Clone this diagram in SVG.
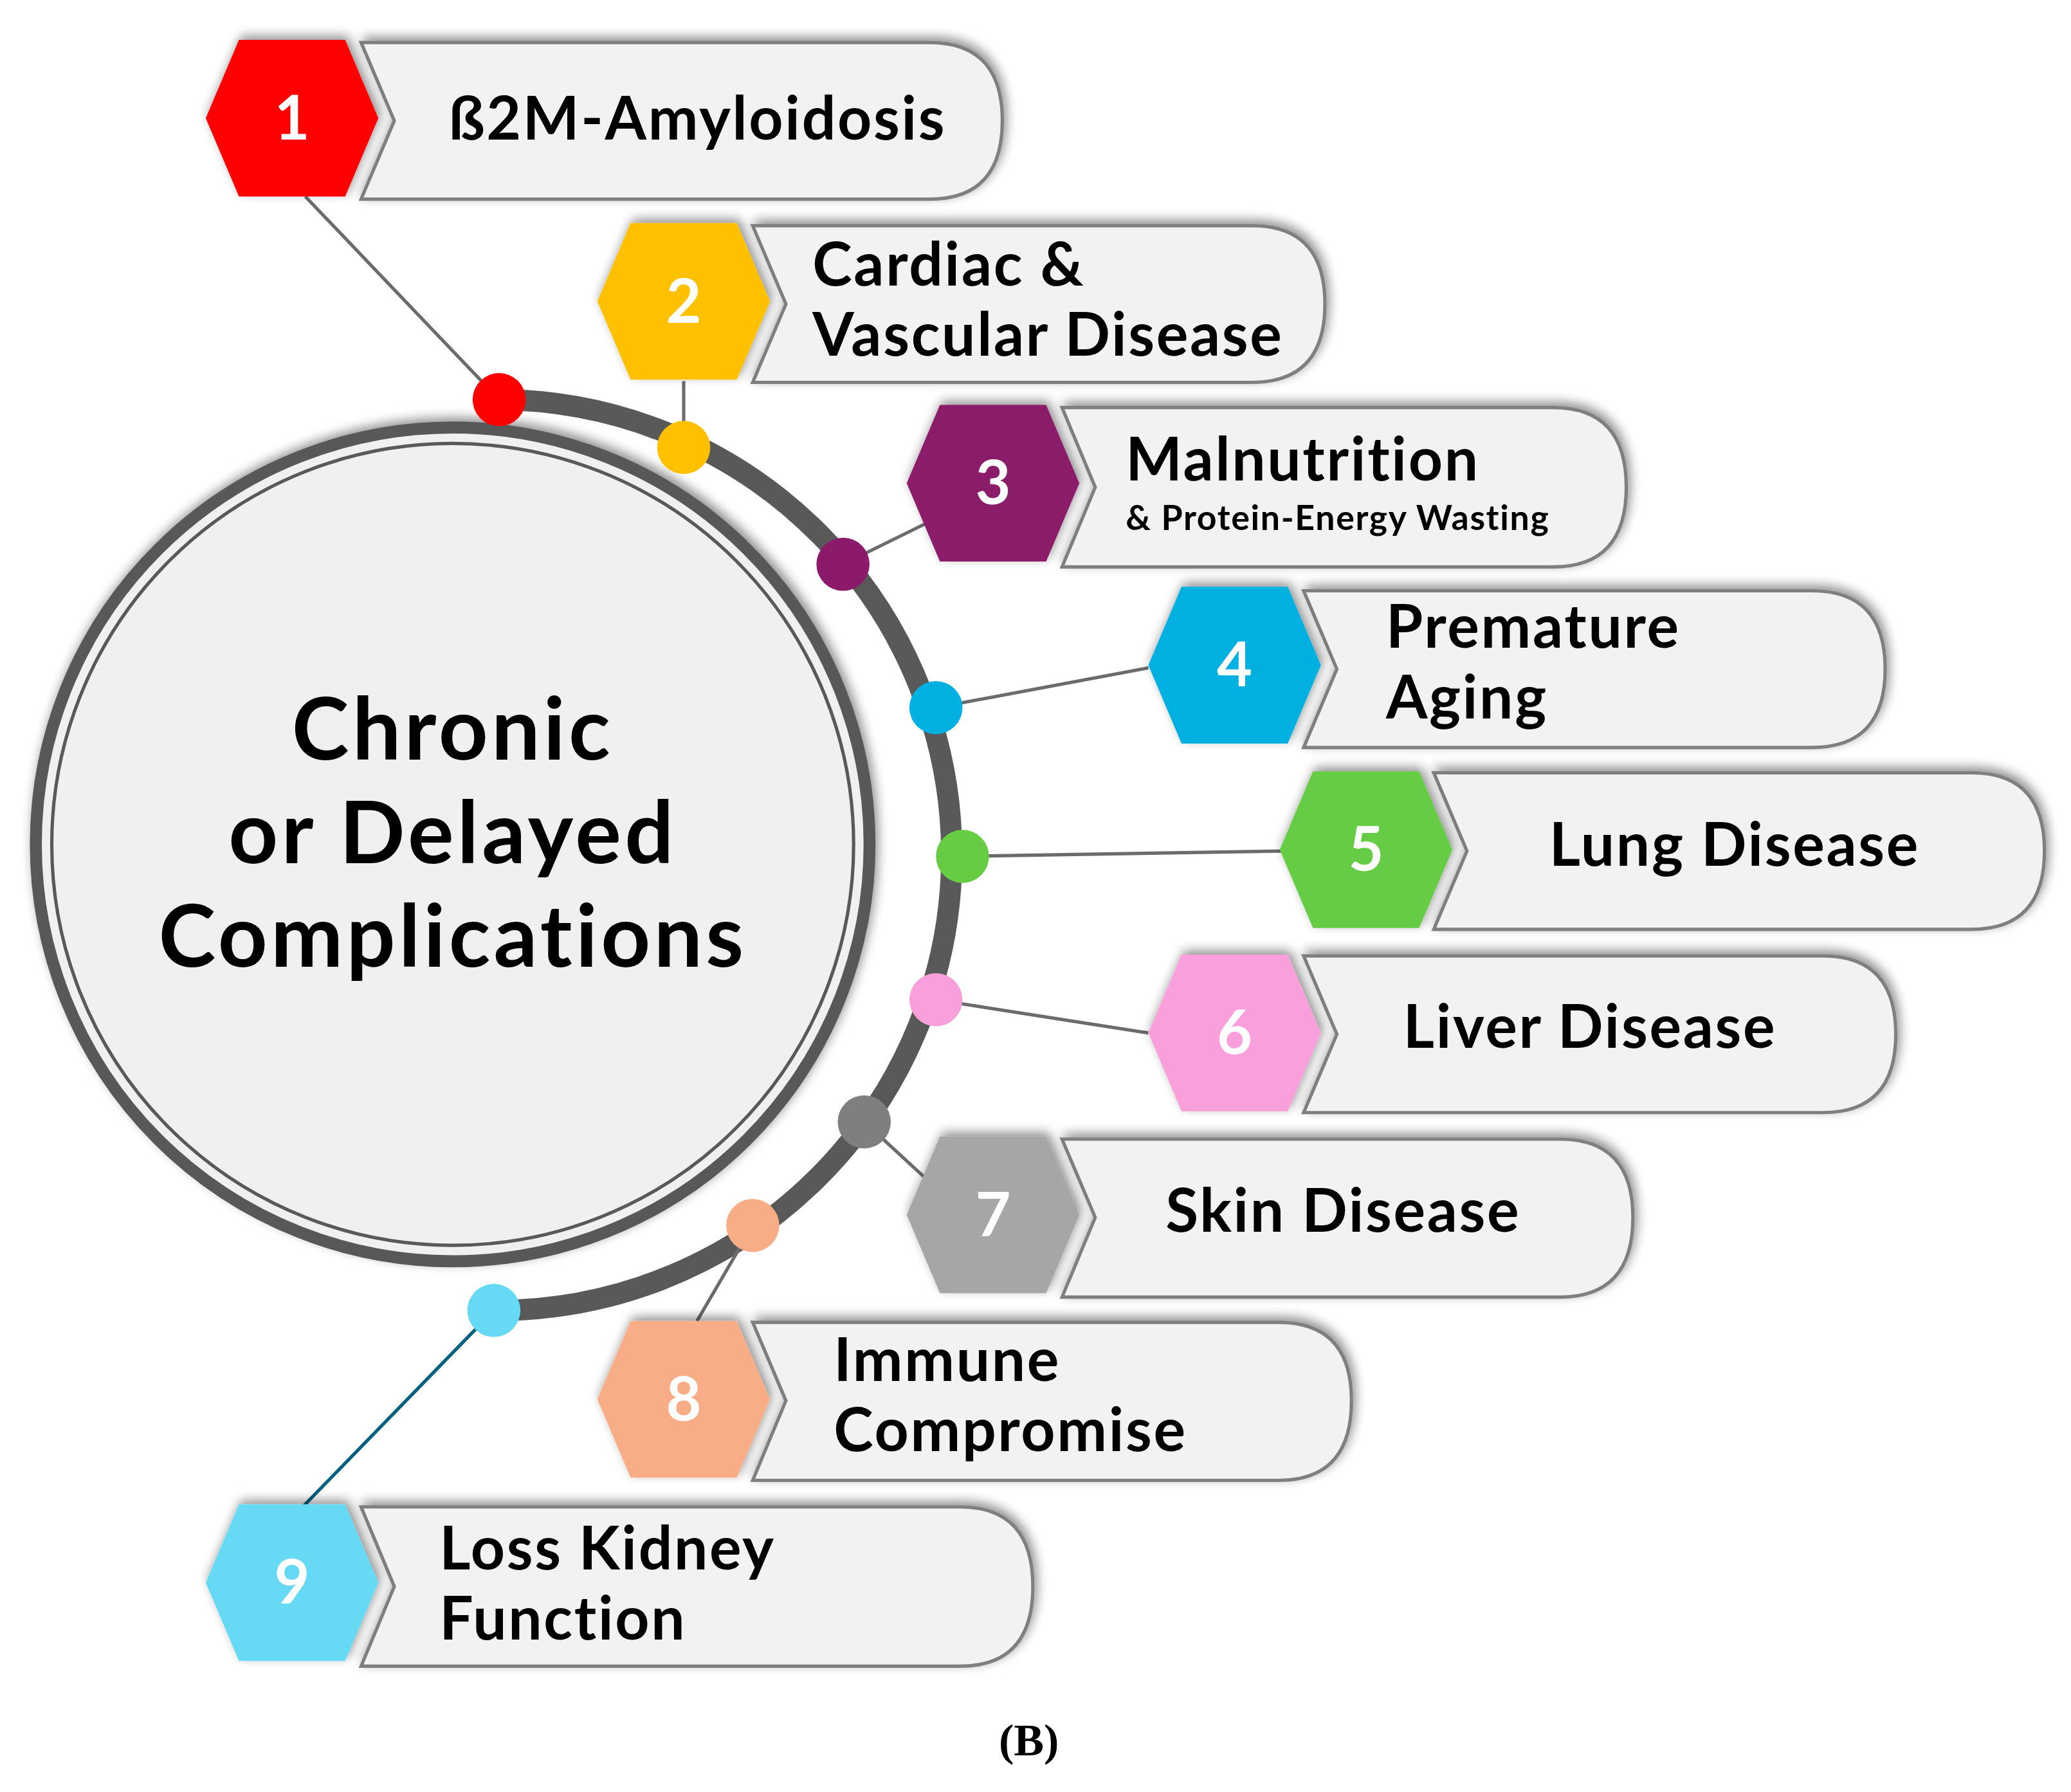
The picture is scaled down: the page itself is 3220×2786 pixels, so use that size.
<svg xmlns="http://www.w3.org/2000/svg" width="3220" height="2786" viewBox="0 0 3220 2786">
<style>
.box{fill:#f2f2f2;stroke:#7f7f7f;stroke-width:2.5;filter:url(#sh)}
.hex{filter:url(#sh)}
.lbl{font-family:Lato,"Liberation Sans",sans-serif;font-weight:bold;font-size:45px;letter-spacing:1.3px;fill:#000}
.num{font-family:Lato,"Liberation Sans",sans-serif;font-weight:bold;font-size:46px;fill:#fff;text-anchor:middle}
.ctr{font-family:Lato,"Liberation Sans",sans-serif;font-weight:bold;font-size:65px;letter-spacing:2.5px;fill:#000;text-anchor:middle}
.con{stroke:#6b6b6b;stroke-width:2.5;fill:none}
</style>
<defs>
<filter id="sh" x="-20%" y="-20%" width="140%" height="140%"><feGaussianBlur in="SourceAlpha" stdDeviation="4"/><feOffset dx="2" dy="-3"/><feComponentTransfer><feFuncA type="linear" slope="0.45"/></feComponentTransfer><feMerge><feMergeNode/><feMergeNode in="SourceGraphic"/></feMerge></filter>
</defs>
<rect width="3220" height="2786" fill="#fff"/>
<g transform="scale(2.0641)">
<g id="center">
<circle cx="341" cy="636" r="314" fill="#f0f0f0" stroke="#595959" stroke-width="9" filter="url(#sh)"/>
<circle cx="341" cy="636" r="302" fill="none" stroke="#595959" stroke-width="2.5"/>
<text class="ctr" x="341" y="572">Chronic</text>
<text class="ctr" x="341" y="650">or Delayed</text>
<text class="ctr" x="341" y="728">Complications</text>
</g>
<g id="connectors">
<path d="M376 301 A338 338 0 0 1 372 987" fill="none" stroke="#595959" stroke-width="16"/>
<line class="con" x1="230" y1="148" x2="376" y2="301"/>
<line class="con" x1="515" y1="287" x2="515" y2="337"/>
<line class="con" x1="700" y1="393" x2="635" y2="425"/>
<line class="con" x1="865" y1="503" x2="705" y2="533"/>
<line class="con" x1="965" y1="641" x2="725" y2="645"/>
<line class="con" x1="865" y1="778" x2="705" y2="753"/>
<line class="con" x1="700" y1="890" x2="651" y2="845"/>
<line class="con" x1="525" y1="995" x2="567" y2="923"/>
<line x1="228" y1="1135" x2="372" y2="987" stroke="#006080" stroke-width="2.5"/>
<circle cx="376" cy="301" r="20" fill="#ff0000"/>
<circle cx="515" cy="337" r="20" fill="#ffc000"/>
<circle cx="635" cy="425" r="20" fill="#8b1a6b"/>
<circle cx="705" cy="533" r="20" fill="#00b0e0"/>
<circle cx="725" cy="645" r="20" fill="#66cc44"/>
<circle cx="705" cy="753" r="20" fill="#f9a0dc"/>
<circle cx="651" cy="845" r="20" fill="#7f7f7f"/>
<circle cx="567" cy="923" r="20" fill="#f9ad86"/>
<circle cx="372" cy="987" r="20" fill="#66d9f5"/>
</g>
<g id="n1">
<path class="box" d="M272 32 H700 Q755 32 755 91 Q755 150 700 150 H272 L297 91 Z"/>
<polygon class="hex" points="155,89 180,30 260,30 285,89 260,148 180,148" fill="#ff0000"/>
<text class="num" x="220" y="105">1</text>
<text class="lbl" x="338" y="105">ß2M-Amyloidosis</text>
</g>
<g id="n2">
<path class="box" d="M567 170 H943 Q998 170 998 229 Q998 288 943 288 H567 L592 229 Z"/>
<polygon class="hex" points="450,227 475,168 555,168 580,227 555,286 475,286" fill="#ffc000"/>
<text class="num" x="515" y="243">2</text>
<text class="lbl" x="612" y="215">Cardiac &amp;</text>
<text class="lbl" x="612" y="268">Vascular Disease</text>
</g>
<g id="n3">
<path class="box" d="M800 307 H1170 Q1225 307 1225 367 Q1225 427 1170 427 H800 L825 367 Z"/>
<polygon class="hex" points="683,364 708,305 788,305 813,364 788,423 708,423" fill="#8b1a6b"/>
<text class="num" x="748" y="380">3</text>
<text class="lbl" x="848" y="362">Malnutrition</text>
<text class="lbl" x="848" y="399" style="font-size:26px;letter-spacing:0.8px">&amp; Protein-Energy Wasting</text>
</g>
<g id="n4">
<path class="box" d="M982 445 H1365 Q1420 445 1420 504 Q1420 563 1365 563 H982 L1007 504 Z"/>
<polygon class="hex" points="865,501 890,442 970,442 995,501 970,560 890,560" fill="#00b0e0"/>
<text class="num" x="930" y="517">4</text>
<text class="lbl" x="1044" y="488">Premature</text>
<text class="lbl" x="1044" y="541">Aging</text>
</g>
<g id="n5">
<path class="box" d="M1080 582 H1485 Q1540 582 1540 641 Q1540 700 1485 700 H1080 L1105 641 Z"/>
<polygon class="hex" points="964,640 989,581 1069,581 1094,640 1069,699 989,699" fill="#66cc44"/>
<text class="num" x="1029" y="656">5</text>
<text class="lbl" x="1167" y="652">Lung Disease</text>
</g>
<g id="n6">
<path class="box" d="M982 720 H1373 Q1428 720 1428 779 Q1428 838 1373 838 H982 L1007 779 Z"/>
<polygon class="hex" points="865,778 890,719 970,719 995,778 970,837 890,837" fill="#f9a0dc"/>
<text class="num" x="930" y="794">6</text>
<text class="lbl" x="1057" y="789">Liver Disease</text>
</g>
<g id="n7">
<path class="box" d="M800 858 H1175 Q1230 858 1230 917 Q1230 977 1175 977 H800 L825 917 Z"/>
<polygon class="hex" points="683,915 708,856 788,856 813,915 788,974 708,974" fill="#a6a6a6"/>
<text class="num" x="748" y="931">7</text>
<text class="lbl" x="878" y="928">Skin Disease</text>
</g>
<g id="n8">
<path class="box" d="M567 996 H963 Q1018 996 1018 1055 Q1018 1115 963 1115 H567 L592 1055 Z"/>
<polygon class="hex" points="450,1054 475,995 555,995 580,1054 555,1113 475,1113" fill="#f9ad86"/>
<text class="num" x="515" y="1070">8</text>
<text class="lbl" x="628" y="1040">Immune</text>
<text class="lbl" x="628" y="1093">Compromise</text>
</g>
<g id="n9">
<path class="box" d="M272 1135 H723 Q778 1135 778 1195 Q778 1255 723 1255 H272 L297 1195 Z"/>
<polygon class="hex" points="155,1192 180,1133 260,1133 285,1192 260,1251 180,1251" fill="#66d9f5"/>
<text class="num" x="220" y="1208">9</text>
<text class="lbl" x="331" y="1182">Loss Kidney</text>
<text class="lbl" x="331" y="1235">Function</text>
</g>
<text x="775" y="1322" text-anchor="middle" font-family="'Liberation Serif',serif" font-weight="bold" font-size="34">(B)</text>
</g>
</svg>
